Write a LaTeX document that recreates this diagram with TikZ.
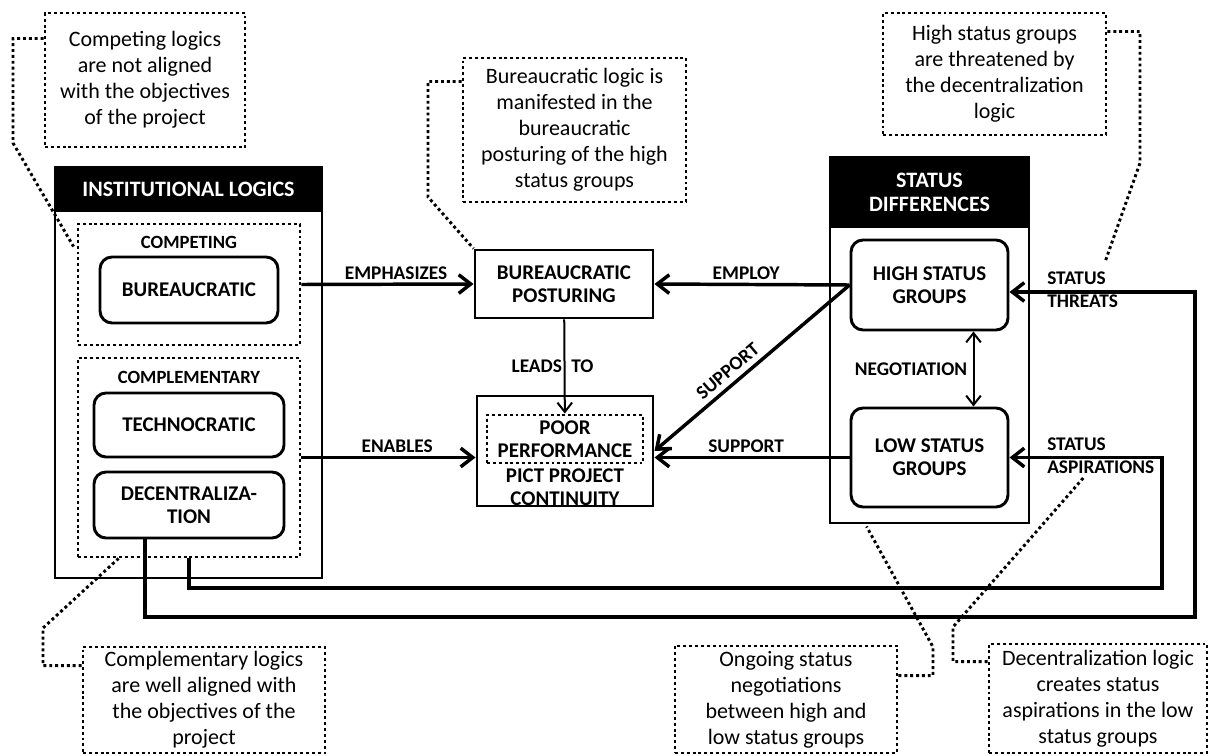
\documentclass[tikz,border=0pt]{standalone}
\usepackage{fontspec}
\setmainfont{Carlito}
\usetikzlibrary{arrows.meta,fit,calc}

\begin{document}
\begin{tikzpicture}[x=0.75pt,y=-0.75pt,
every node/.style={font=\bfseries\fontsize{15.7}{17.25}\selectfont,align=center,inner sep=0pt},
sz/.style 2 args={minimum width=0.75pt*#1,minimum height=0.75pt*#2},
frame/.style={draw,line width=2.2pt},
head/.style={frame,fill=black,text=white,font=\bfseries\fontsize{16.5}{18}\selectfont},
rbox/.style={draw,line width=2.2pt,rounded corners=9pt},
dbox/.style={draw,line width=2.2pt,dash pattern=on 2.2pt off 2.2pt},
tag/.style={font=\bfseries\fontsize{14}{16}\selectfont},
lbl/.style={font=\bfseries\fontsize{14.5}{17}\selectfont},
note/.style={dbox,font=\fontsize{16.5}{19.5}\selectfont},
link/.style={line width=2.2pt,dash pattern=on 2.2pt off 2.2pt},
conn/.style={line width=2.6pt,-{Straight Barb[length=9pt,width=14pt]}},
thin/.style={line width=1.5pt,-{Straight Barb[length=7pt,width=11pt]}}]
\useasboundingbox (0,0) rectangle (1208,756);

\node[frame,fit={(55,167) (322,578)}] (IL) {};
\node[head,sz={267}{44}] (ILh) at (188.5,189) {INSTITUTIONAL LOGICS};
\node[dbox,fit={(78,224) (300,345)}] (cmp) {};
\node[tag] (cmpt) at (189,242) {COMPETING};
\node[rbox,sz={178}{66}] (bur) at (189,290) {BUREAUCRATIC};
\node[dbox,fit={(78,358) (300,557)}] (cpl) {};
\node[tag] (cplt) at (189,377) {COMPLEMENTARY};
\node[rbox,sz={190}{64}] (tech) at (189,425) {TECHNOCRATIC};
\node[rbox,sz={190}{66}] (dec) at (189,505) {DECENTRALIZA-\\TION};

\node[frame,sz={178}{68}] (bp) at (564,284) {BUREAUCRATIC\\POSTURING};
\node[frame,fit={(477,396) (653,506)}] (pict) {};
\node[dbox,sz={156}{48}] (poor) at (565,439) {POOR\\PERFORMANCE};
\node (pictt) at (565,487) {PICT PROJECT\\CONTINUITY};

\node[frame,fit={(830,157) (1029,523)}] (sd) {};
\node[head,sz={199}{70}] (sdh) at (929.5,192) {STATUS\\DIFFERENCES};
\node[rbox,sz={157}{90}] (high) at (929.5,285) {HIGH STATUS\\GROUPS};
\node[rbox,sz={157}{99}] (low) at (929.5,457.5) {LOW STATUS\\GROUPS};

\draw[conn] (cmp.east) -- (bp.west) node[lbl,pos=.55,above=2.5pt] {EMPHASIZES};
\draw[conn] (high.west) -- (bp.east) node[lbl,pos=.53,above=2.5pt] {EMPLOY};
\draw[thin] (bp) -- (poor) node[lbl,midway,xshift=-9pt] {LEADS\hspace{7pt}TO};
\draw[conn] (cpl.east) -- (cpl.east -| pict.west) node[lbl,pos=.55,above=2.5pt] {ENABLES};
\draw[conn] (low.west) -- (low.west -| pict.east) node[lbl,pos=.53,above=2.5pt] {SUPPORT};
\draw[conn] (high.west) -- (pict.east) node[lbl,pos=.58,sloped,above=4pt] {SUPPORT};
\draw[thin,{Straight Barb[length=7pt,width=11pt]}-{Straight Barb[length=7pt,width=11pt]}]
  ($(high.south)+(44,0)$) -- ($(low.north)+(44,0)$) node[lbl,midway,left=4pt] {NEGOTIATION};

\draw[conn] ($(dec.south)+(-44,0)$) |- (1195,617) |- ($(high.east)+(0,7)$);
\node[lbl,anchor=west,align=left] (thr) at (1047,290) {STATUS\\THREATS};
\draw[conn] (cpl.south) |- (1162,588) |- (low.east);
\node[lbl,anchor=west,align=left] (asp) at (1047,456) {STATUS\\ASPIRATIONS};

\coordinate (thrtip) at (1105,262);
\coordinate (asptip) at (1085,476);

\node[note,sz={200}{134}] (n1) at (145,80) {Competing logics\\are not aligned\\with the objectives\\of the project};
\draw[link] ($(n1.north west)+(0,27)$) -| (13,143) -- ($(cmp.north west)+(-3,24)$);
\node[note,sz={223}{144}] (n2) at (574.5,130) {Bureaucratic logic is\\manifested in the\\bureaucratic\\posturing of the high\\status groups};
\draw[link] ($(n2.north west)+(0,25)$) -| (428,197) -- (bp.north west);
\node[note,sz={223}{122}] (n3) at (994.5,74) {High status groups\\are threatened by\\the decentralization\\logic};
\draw[link] ($(n3.north east)+(0,20)$) -| (1140,163) -- (thrtip);
\node[note,sz={242}{106}] (n4) at (204,700) {Complementary logics\\are well aligned with\\the objectives of the\\project};
\draw[link] ($(n4.north west)+(0,20)$) -| (43,628) -- ($(cpl.south west)+(42,0)$);
\node[note,sz={222}{107}] (n5) at (786,699.5) {Ongoing status\\negotiations\\between high and\\low status groups};
\draw[link] ($(n5.north east)+(0,31)$) -| (933,647) -- ($(sd.south west)+(38,2)$);
\node[note,sz={218}{109}] (n6) at (1098,698.5) {Decentralization logic\\creates status\\aspirations in the low\\status groups};
\draw[link] ($(n6.north west)+(0,19)$) -| (953,627) -- (asptip);
\end{tikzpicture}
\end{document}
